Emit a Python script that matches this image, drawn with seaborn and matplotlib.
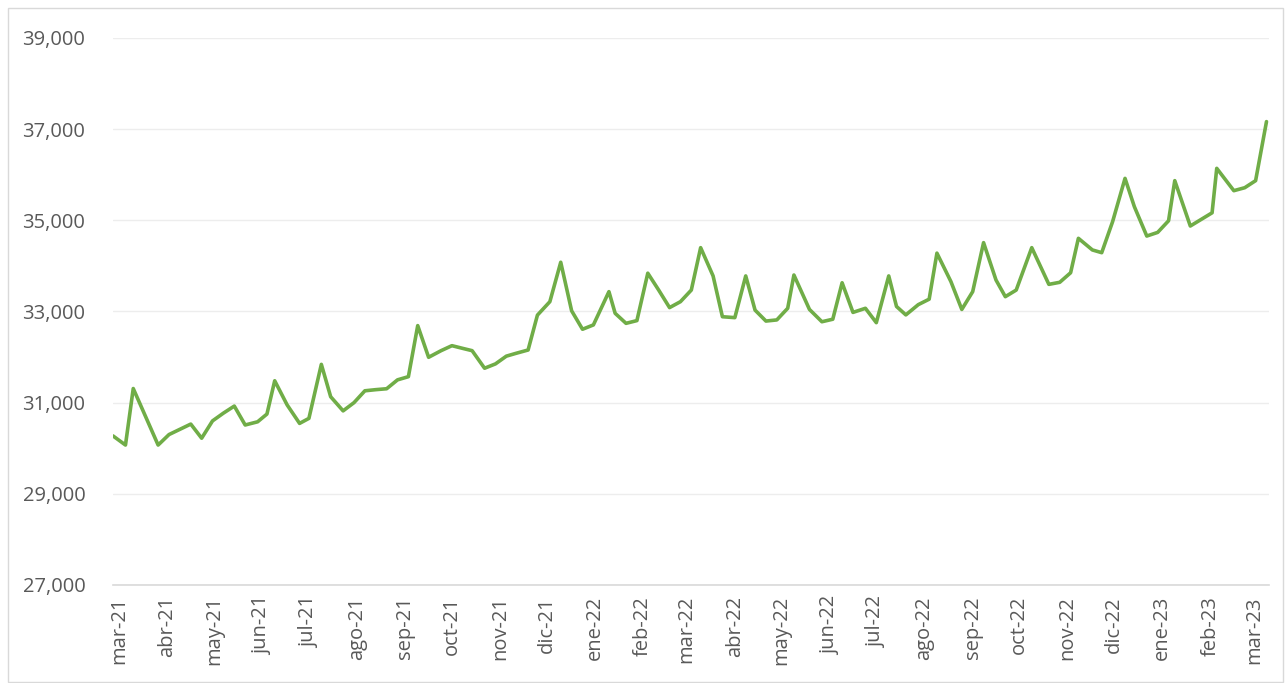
import matplotlib
matplotlib.use("Agg")
import matplotlib.pyplot as plt
import matplotlib.ticker as mticker
import matplotlib.patches as mpatches
import seaborn as sns
import pandas as pd

dates = [
    "2021-02-25", "2021-03-05", "2021-03-10", "2021-03-18", "2021-03-26",
    "2021-04-02", "2021-04-09", "2021-04-16", "2021-04-23", "2021-04-30",
    "2021-05-07", "2021-05-14", "2021-05-21", "2021-05-29", "2021-06-04",
    "2021-06-09", "2021-06-17", "2021-06-25", "2021-07-01", "2021-07-09",
    "2021-07-15", "2021-07-23", "2021-07-30", "2021-08-06", "2021-08-13",
    "2021-08-20", "2021-08-27", "2021-09-03", "2021-09-09", "2021-09-16",
    "2021-09-24", "2021-10-01", "2021-10-08", "2021-10-14", "2021-10-22",
    "2021-10-29", "2021-11-05", "2021-11-11", "2021-11-19", "2021-11-25",
    "2021-12-03", "2021-12-10", "2021-12-17", "2021-12-24", "2021-12-31",
    "2022-01-10", "2022-01-14", "2022-01-21", "2022-01-28", "2022-02-04",
    "2022-02-11", "2022-02-18", "2022-02-25", "2022-03-04", "2022-03-10",
    "2022-03-18", "2022-03-24", "2022-04-01", "2022-04-08", "2022-04-14",
    "2022-04-21", "2022-04-28", "2022-05-05", "2022-05-09", "2022-05-19",
    "2022-05-27", "2022-06-03", "2022-06-09", "2022-06-16", "2022-06-24",
    "2022-07-01", "2022-07-09", "2022-07-14", "2022-07-20", "2022-07-28",
    "2022-08-04", "2022-08-09", "2022-08-18", "2022-08-25", "2022-09-01",
    "2022-09-08", "2022-09-16", "2022-09-22", "2022-09-29", "2022-10-09",
    "2022-10-20", "2022-10-27", "2022-11-03", "2022-11-08", "2022-11-17",
    "2022-11-23", "2022-11-30", "2022-12-08", "2022-12-14", "2022-12-22",
    "2022-12-29", "2023-01-05", "2023-01-09", "2023-01-19", "2023-01-26",
    "2023-02-02", "2023-02-05", "2023-02-16", "2023-02-23", "2023-03-02",
    "2023-03-09",
]

values = [
    30270, 30070, 31310, 30690, 30070,
    30300, 30415, 30530, 30220, 30600,
    30770, 30925, 30510, 30580, 30750,
    31480, 30950, 30545, 30655, 31840,
    31130, 30820, 31000, 31260, 31285,
    31305, 31500, 31570, 32690, 31995,
    32140, 32250, 32190, 32140, 31755,
    31850, 32020, 32080, 32155, 32920,
    33215, 34080, 33015, 32610, 32705,
    33435, 32960, 32740, 32800, 33840,
    33470, 33085, 33215, 33470, 34400,
    33780, 32885, 32865, 33780, 33030,
    32790, 32815, 33070, 33800, 33045,
    32775, 32830, 33630, 32980, 33070,
    32755, 33780, 33110, 32925, 33150,
    33270, 34280, 33655, 33045, 33435,
    34510, 33690, 33325, 33470, 34400,
    33595, 33640, 33850, 34605, 34350,
    34290, 34970, 35920, 35300, 34655,
    34735, 34990, 35870, 34875, 35020,
    35165, 36140, 35650, 35715, 35870,
    37165,
]

month_labels = [
    "mar-21", "abr-21", "may-21", "jun-21", "jul-21", "ago-21", "sep-21",
    "oct-21", "nov-21", "dic-21", "ene-22", "feb-22", "mar-22", "abr-22",
    "may-22", "jun-22", "jul-22", "ago-22", "sep-22", "oct-22", "nov-22",
    "dic-22", "ene-23", "feb-23", "mar-23",
]

y_ticks = [27000, 29000, 31000, 33000, 35000, 37000, 39000]

df = pd.DataFrame({"fecha": pd.to_datetime(dates), "valor": values})
month_ticks = pd.date_range("2021-03-01", periods=len(month_labels), freq="MS")

sns.set_style("white")
plt.rcParams["font.family"] = ["Open Sans", "DejaVu Sans"]

fig = plt.figure(figsize=(12.86, 6.83), dpi=100)
ax = fig.add_axes([0.0879, 0.1435, 0.8985, 0.8009])

sns.lineplot(data=df, x="fecha", y="valor", ax=ax, color="#70AD47",
             linewidth=2.6, zorder=3)

ax.set_ylim(y_ticks[0], y_ticks[-1])
ax.set_yticks(y_ticks)
ax.yaxis.set_major_formatter(mticker.FuncFormatter(lambda v, p: f"{int(v):,}"))
ax.set_xlim(df["fecha"].iloc[0], df["fecha"].iloc[-1] + pd.Timedelta(days=1.3))
ax.set_xticks(month_ticks)
ax.set_xticklabels(month_labels, rotation=90)

ax.grid(axis="y", color="#EDEDED", linewidth=1.0)
ax.grid(axis="x", visible=False)
for s in ["top", "right", "left"]:
    ax.spines[s].set_visible(False)
ax.spines["bottom"].set_color("#D9D9D9")
ax.spines["bottom"].set_linewidth(1.2)
ax.tick_params(axis="both", length=0, labelsize=14.5, labelcolor="#595959")
ax.tick_params(axis="y", pad=20)
ax.tick_params(axis="x", pad=8)
ax.set_xlabel("")
ax.set_ylabel("")

border = mpatches.Rectangle((0.006, 0.001), 0.992, 0.987, transform=fig.transFigure,
                            fill=False, edgecolor="#D9D9D9", linewidth=1.0)
fig.patches.append(border)

fig.savefig("out.png", dpi=100, facecolor="white")
